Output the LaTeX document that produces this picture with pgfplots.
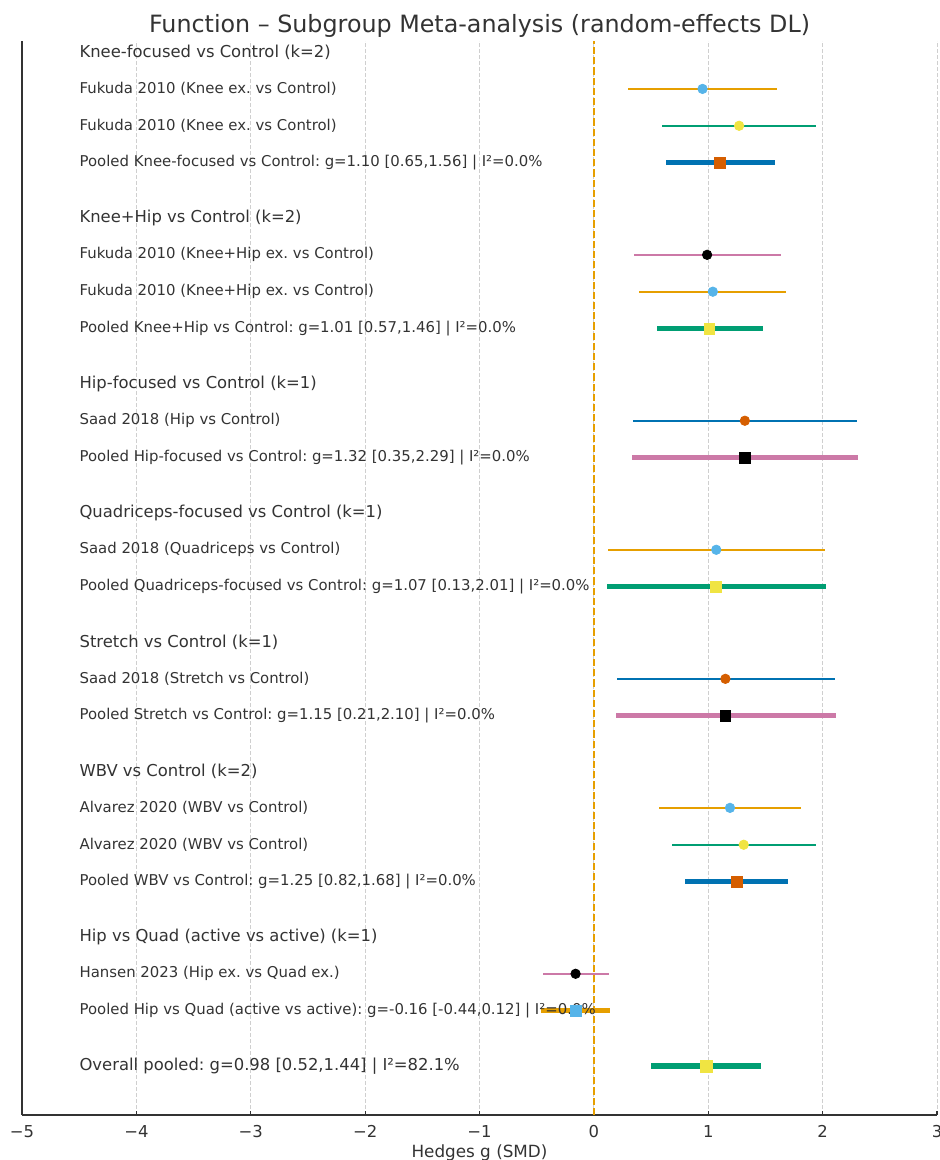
\documentclass[border=0pt]{standalone}
\usepackage{pgfplots}
\pgfplotsset{compat=1.18}
\usepackage{fontspec}
\setmainfont{DejaVu Sans}
\frenchspacing

\definecolor{cbblue}{HTML}{0072B2}
\definecolor{cborange}{HTML}{E69F00}
\definecolor{cbgreen}{HTML}{009E73}
\definecolor{cbpink}{HTML}{CC79A7}
\definecolor{cbsky}{HTML}{56B4E9}
\definecolor{cbyellow}{HTML}{F0E442}
\definecolor{cbred}{HTML}{D55E00}
\definecolor{txt}{HTML}{333333}
\definecolor{gridc}{HTML}{CFCFCF}

% one forest-plot row: y, lower, upper, estimate, line colour, line width, mark, mark colour, mark size
\newcommand{\fprow}[9]{%
  \addplot[draw=#5, line width=#6, line cap=rect, forget plot] coordinates {(#2,#1) (#3,#1)};
  \addplot[only marks, mark=#7, mark size=#9, mark options={fill=#8, draw=#8}, forget plot] coordinates {(#4,#1)};
}

\begin{document}
\begin{tikzpicture}[x=1pt,y=1pt]
\begin{axis}[
  scale only axis,
  width=457.5pt, height=537pt,
  xmin=-5, xmax=3,
  ymin=-28.83, ymax=0.30,
  axis x line*=bottom, axis y line*=left,
  x axis line style={-, draw=txt, line width=0.6pt},
  y axis line style={-, draw=txt, line width=0.6pt},
  xtick={-5,-4,-3,-2,-1,0,1,2,3},
  xticklabels={−5,−4,−3,−2,−1,0,1,2,3},
  ytick=\empty,
  tick align=inside,
  major tick length=2.2pt,
  tick style={draw=txt, line width=0.6pt},
  xmajorgrids,
  grid style={draw=gridc, dash pattern=on 2pt off 1pt, line width=0.4pt},
  xticklabel style={font=\fontsize{8.2}{9}\selectfont, text=txt, inner sep=0pt, yshift=-5pt},
  xlabel={Hedges g (SMD)},
  xlabel style={font=\fontsize{8.4}{9}\selectfont, text=txt, inner sep=0pt, at={(0.5,0)}, anchor=north, yshift=-14.5pt},
  title={Function – Subgroup Meta-analysis (random-effects DL)},
  title style={font=\fontsize{11.9}{13}\selectfont, text=txt, at={(0.5,1)}, anchor=base, inner sep=0pt, yshift=-2pt},
  clip=false,
]
% null-effect reference line
\addplot[draw=cborange, line width=1pt, dash pattern=on 3.6pt off 1.5pt, forget plot] coordinates {(0,-28.83) (0,0.30)};

% Knee-focused vs Control
\fprow{-1}{0.31}{1.59}{0.95}{cborange}{1pt}{*}{cbsky}{2.35pt}
\fprow{-2}{0.60}{1.93}{1.27}{cbgreen}{1pt}{*}{cbyellow}{2.35pt}
\fprow{-3}{0.65}{1.56}{1.10}{cbblue}{2.2pt}{square*}{cbred}{2.7pt}
% Knee+Hip vs Control
\fprow{-5.5}{0.36}{1.63}{0.99}{cbpink}{1pt}{*}{black}{2.35pt}
\fprow{-6.5}{0.40}{1.67}{1.04}{cborange}{1pt}{*}{cbsky}{2.35pt}
\fprow{-7.5}{0.57}{1.46}{1.01}{cbgreen}{2.2pt}{square*}{cbyellow}{2.7pt}
% Hip-focused vs Control
\fprow{-10}{0.35}{2.29}{1.32}{cbblue}{1pt}{*}{cbred}{2.35pt}
\fprow{-11}{0.35}{2.29}{1.32}{cbpink}{2.2pt}{square*}{black}{2.7pt}
% Quadriceps-focused vs Control
\fprow{-13.5}{0.13}{2.01}{1.07}{cborange}{1pt}{*}{cbsky}{2.35pt}
\fprow{-14.5}{0.13}{2.01}{1.07}{cbgreen}{2.2pt}{square*}{cbyellow}{2.7pt}
% Stretch vs Control
\fprow{-17}{0.21}{2.10}{1.15}{cbblue}{1pt}{*}{cbred}{2.35pt}
\fprow{-18}{0.21}{2.10}{1.15}{cbpink}{2.2pt}{square*}{black}{2.7pt}
% WBV vs Control
\fprow{-20.5}{0.58}{1.80}{1.19}{cborange}{1pt}{*}{cbsky}{2.35pt}
\fprow{-21.5}{0.69}{1.93}{1.31}{cbgreen}{1pt}{*}{cbyellow}{2.35pt}
\fprow{-22.5}{0.82}{1.68}{1.25}{cbblue}{2.2pt}{square*}{cbred}{2.7pt}
% Hip vs Quad (active vs active)
\fprow{-25}{-0.44}{0.12}{-0.16}{cbpink}{1pt}{*}{black}{2.35pt}
\fprow{-26}{-0.44}{0.12}{-0.16}{cborange}{2.2pt}{square*}{cbsky}{2.7pt}
% Overall
\fprow{-27.5}{0.52}{1.44}{0.98}{cbgreen}{2.8pt}{square*}{cbyellow}{3pt}

% row labels
\begin{scope}[every node/.style={anchor=west, inner sep=0pt, text=txt, font=\fontsize{7.45}{9}\selectfont}]
\node[font=\fontsize{8.2}{10}\selectfont] at (axis cs:-4.5,0) {Knee-focused vs Control (k=2)};
\node at (axis cs:-4.5,-1) {Fukuda 2010 (Knee ex. vs Control)};
\node at (axis cs:-4.5,-2) {Fukuda 2010 (Knee ex. vs Control)};
\node at (axis cs:-4.5,-3) {Pooled Knee-focused vs Control: g=1.10 [0.65,1.56] | I²=0.0\%};
\node[font=\fontsize{8.2}{10}\selectfont] at (axis cs:-4.5,-4.5) {Knee+Hip vs Control (k=2)};
\node at (axis cs:-4.5,-5.5) {Fukuda 2010 (Knee+Hip ex. vs Control)};
\node at (axis cs:-4.5,-6.5) {Fukuda 2010 (Knee+Hip ex. vs Control)};
\node at (axis cs:-4.5,-7.5) {Pooled Knee+Hip vs Control: g=1.01 [0.57,1.46] | I²=0.0\%};
\node[font=\fontsize{8.2}{10}\selectfont] at (axis cs:-4.5,-9) {Hip-focused vs Control (k=1)};
\node at (axis cs:-4.5,-10) {Saad 2018 (Hip vs Control)};
\node at (axis cs:-4.5,-11) {Pooled Hip-focused vs Control: g=1.32 [0.35,2.29] | I²=0.0\%};
\node[font=\fontsize{8.2}{10}\selectfont] at (axis cs:-4.5,-12.5) {Quadriceps-focused vs Control (k=1)};
\node at (axis cs:-4.5,-13.5) {Saad 2018 (Quadriceps vs Control)};
\node at (axis cs:-4.5,-14.5) {Pooled Quadriceps-focused vs Control: g=1.07 [0.13,2.01] | I²=0.0\%};
\node[font=\fontsize{8.2}{10}\selectfont] at (axis cs:-4.5,-16) {Stretch vs Control (k=1)};
\node at (axis cs:-4.5,-17) {Saad 2018 (Stretch vs Control)};
\node at (axis cs:-4.5,-18) {Pooled Stretch vs Control: g=1.15 [0.21,2.10] | I²=0.0\%};
\node[font=\fontsize{8.2}{10}\selectfont] at (axis cs:-4.5,-19.5) {WBV vs Control (k=2)};
\node at (axis cs:-4.5,-20.5) {Alvarez 2020 (WBV vs Control)};
\node at (axis cs:-4.5,-21.5) {Alvarez 2020 (WBV vs Control)};
\node at (axis cs:-4.5,-22.5) {Pooled WBV vs Control: g=1.25 [0.82,1.68] | I²=0.0\%};
\node[font=\fontsize{8.2}{10}\selectfont] at (axis cs:-4.5,-24) {Hip vs Quad (active vs active) (k=1)};
\node at (axis cs:-4.5,-25) {Hansen 2023 (Hip ex. vs Quad ex.)};
\node at (axis cs:-4.5,-26) {Pooled Hip vs Quad (active vs active): g=-0.16 [-0.44,0.12] | I²=0.0\%};
\node[font=\fontsize{8.2}{10}\selectfont] at (axis cs:-4.5,-27.5) {Overall pooled: g=0.98 [0.52,1.44] | I²=82.1\%};
\end{scope}
\end{axis}
\pgfresetboundingbox
\useasboundingbox (current axis.south west) ++(-11pt,-22.5pt) rectangle ++(470pt,580pt);
\end{tikzpicture}
\end{document}
